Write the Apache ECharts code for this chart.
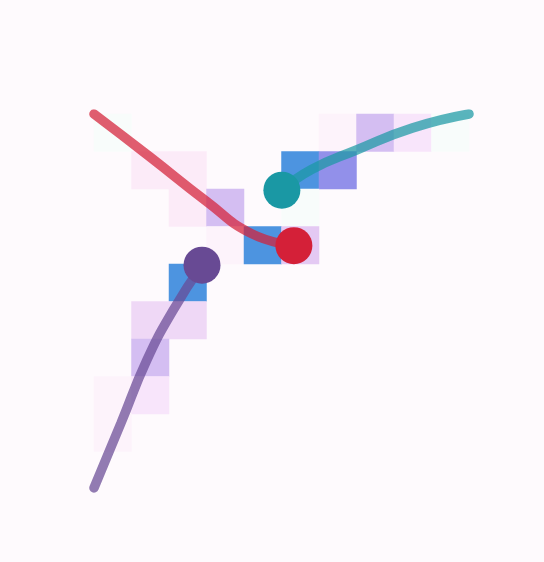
<!DOCTYPE html>
<html>
<head>
<meta charset="utf-8">
<script src="https://cdn.jsdelivr.net/npm/echarts@6/dist/echarts.min.js"></script>
<style>
  html, body { margin: 0; padding: 0; background: #fefafd; }
  #main { width: 544px; height: 562px; }
</style>
</head>
<body>
<div id="main"></div>
<script>
// 10x10 grid, rows counted from the top
const cols = ['0', '1', '2', '3', '4', '5', '6', '7', '8', '9'];
const rows = ['0', '1', '2', '3', '4', '5', '6', '7', '8', '9'];

// [col, row, level]
const cells = [
  [0, 0, 0], [6, 0, 1], [7, 0, 6], [8, 0, 3], [9, 0, 0],
  [1, 1, 2], [2, 1, 2], [5, 1, 10], [6, 1, 8],
  [2, 2, 2], [3, 2, 6], [5, 2, 0],
  [3, 3, 1], [4, 3, 10], [5, 3, 5],
  [2, 4, 10],
  [1, 5, 4], [2, 5, 4],
  [1, 6, 6],
  [0, 7, 1], [1, 7, 3],
  [0, 8, 1]
];

// trails on a 0..10 scale, last point = head
const redTrail = [[0, 10], [1.5, 8.85], [3.0, 7.67], [4.2, 6.81], [5.33, 6.49]];
const tealTrail = [[10, 10], [8.5, 9.63], [7, 9.04], [5.8, 8.52], [5.01, 7.97]];
const purpleTrail = [[0, 0.03], [0.72, 1.76], [1.41, 3.44], [2.1, 4.75], [2.88, 5.97]];

var chart = echarts.init(document.getElementById('main'));

function trail(data, color) {
  return {
    type: 'line',
    xAxisIndex: 1,
    yAxisIndex: 1,
    data: data,
    smooth: 0.5,
    showSymbol: true,
    showAllSymbol: true,
    symbol: 'circle',
    symbolSize: function (v, p) {
      return p.dataIndex === data.length - 1 ? 37 : 0;
    },
    itemStyle: { color: color, opacity: 1 },
    lineStyle: { color: color, width: 9.5, opacity: 0.72, cap: 'round' },
    z: 5
  };
}

var option = {
  backgroundColor: '#fefafd',
  animation: false,
  grid: [
    { left: 94, top: 114, width: 375, height: 375 },
    { left: 94, top: 114, width: 375, height: 375 }
  ],
  xAxis: [
    { type: 'category', data: cols, gridIndex: 0, show: false },
    { type: 'value', min: 0, max: 10, gridIndex: 1, show: false }
  ],
  yAxis: [
    { type: 'category', data: rows, gridIndex: 0, inverse: true, show: false },
    { type: 'value', min: 0, max: 10, gridIndex: 1, show: false }
  ],
  visualMap: {
    type: 'piecewise',
    show: false,
    seriesIndex: 0,
    dimension: 2,
    pieces: [
      { value: 0, color: '#f8fcfb' },
      { value: 1, color: '#fdf3fb' },
      { value: 2, color: '#fcebf8' },
      { value: 3, color: '#f8e5fb' },
      { value: 4, color: '#efd8f6' },
      { value: 5, color: '#e4c9f3' },
      { value: 6, color: '#d4bef2' },
      { value: 8, color: '#9290ea' },
      { value: 10, color: '#4d94e0' }
    ]
  },
  series: [
    {
      type: 'heatmap',
      xAxisIndex: 0,
      yAxisIndex: 0,
      data: cells,
      itemStyle: { borderWidth: 0 }
    },
    trail(redTrail, '#d42038'),
    trail(tealTrail, '#1a98a4'),
    trail(purpleTrail, '#684a94')
  ]
};

chart.setOption(option);
</script>
</body>
</html>
